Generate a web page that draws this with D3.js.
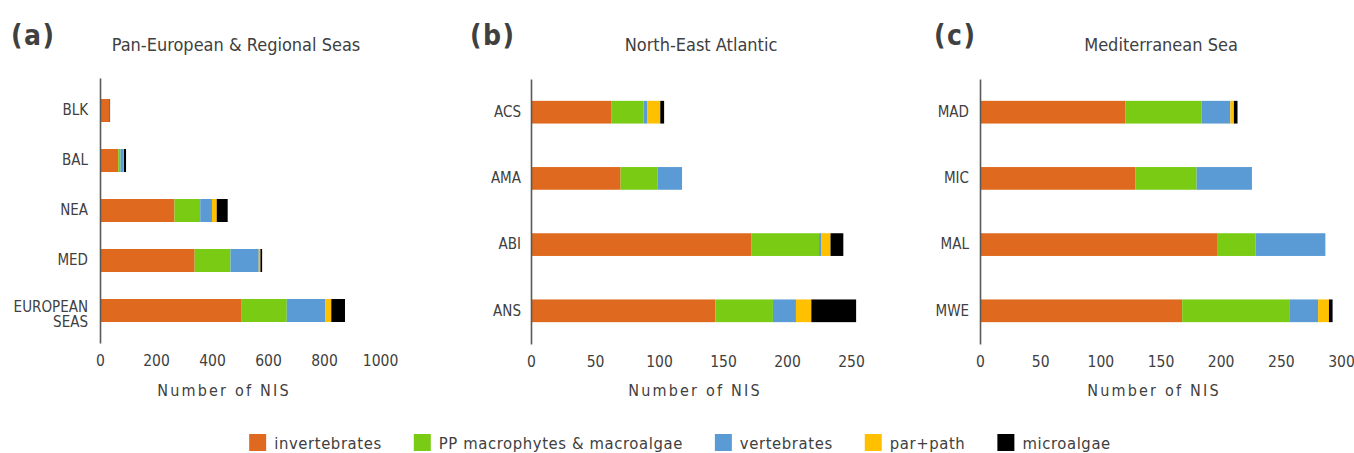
<!DOCTYPE html>
<html>
<head>
<meta charset="utf-8">
<script src="https://cdn.jsdelivr.net/npm/d3@7"></script>
<style>
  html, body { margin: 0; padding: 0; background: #fff; }
  svg { display: block; }
  text { font-family: "DejaVu Sans Condensed", "Liberation Sans Narrow", sans-serif; fill: #404040; }
</style>
</head>
<body>
<svg id="chart" width="1354" height="453"></svg>
<script>
// ---------- DATA ----------
const seriesNames = ["invertebrates", "PP macrophytes & macroalgae", "vertebrates", "par+path", "microalgae"];
const seriesColors = ["#DF6A1F", "#79CB13", "#5B9BD5", "#FFC000", "#000000"];

// (a) Pan-European & Regional Seas
const catsA = ["BLK", "BAL", "NEA", "MED", "EUROPEAN SEAS"];
const invA   = [33, 65, 266, 338, 506];
const ppA    = [0, 8, 92, 128, 161];
const vertA  = [0, 10, 42, 101, 137];
const parA   = [1, 2, 17, 6, 22];
const microA = [2, 8, 39, 6, 49];
const ticksA = [0, 200, 400, 600, 800, 1000];

// (b) North-East Atlantic
const catsB = ["ACS", "AMA", "ABI", "ANS"];
const invB   = [63, 70, 172, 144];
const ppB    = [25, 29, 53, 45];
const vertB  = [3, 19, 2, 18];
const parB   = [10, 0, 7, 12];
const microB = [3, 0, 10, 35];
const ticksB = [0, 50, 100, 150, 200, 250];

// (c) Mediterranean Sea
const catsC = ["MAD", "MIC", "MAL", "MWE"];
const invC   = [121, 129, 197, 168];
const ppC    = [63, 51, 32, 89];
const vertC  = [24, 46, 58, 24];
const parC   = [3, 0, 0, 9];
const microC = [3, 0, 0, 3];
const ticksC = [0, 50, 100, 150, 200, 250, 300];

const panelLetters = ["(a)", "(b)", "(c)"];
const panelTitles = ["Pan-European & Regional Seas", "North-East Atlantic", "Mediterranean Sea"];
const axisTitle = "Number of NIS";

// ---------- DRAW ----------
const svg = d3.select("#chart");

function buildRows(cats, arrays) {
  return cats.map((c, i) => {
    const row = { cat: c };
    seriesNames.forEach((s, j) => { row[s] = arrays[j][i]; });
    return row;
  });
}

function drawPanel(cfg) {
  const g = svg.append("g");
  const rows = buildRows(cfg.cats, cfg.arrays);
  const x = d3.scaleLinear().domain(cfg.xDomain).range(cfg.xRange);
  const y = d3.scaleBand().domain(cfg.cats).range(cfg.yRange)
    .paddingInner(cfg.padIn).paddingOuter(cfg.padOut);

  const stack = d3.stack().keys(seriesNames)(rows);
  g.selectAll("g.series").data(stack).join("g")
    .attr("class", "series")
    .attr("fill", (d, i) => seriesColors[i])
    .selectAll("rect").data(d => d).join("rect")
    .attr("x", d => x(d[0]))
    .attr("width", d => Math.max(0, x(d[1]) - x(d[0])))
    .attr("y", d => y(d.data.cat))
    .attr("height", y.bandwidth());

  // y axis (line + category labels)
  const yAxis = d3.axisLeft(y).tickSize(0).tickPadding(cfg.labelPad);
  const ya = g.append("g").attr("transform", `translate(${cfg.xRange[0]},0)`).call(yAxis);
  ya.select(".domain").attr("stroke", "#595959").attr("stroke-width", 1.6);
  ya.selectAll(".tick text")
    .attr("font-size", 15)
    .style("font-family", '"DejaVu Sans Condensed", sans-serif')
    .attr("fill", "#404040")
    .each(function(d) {
      const t = d3.select(this);
      const words = d.split(" ");
      if (words.length > 1) {
        t.text(null).attr("dy", null).attr("y", 0);
        const xx = -cfg.labelPad;
        t.append("tspan").attr("x", xx).attr("y", 1).text(words[0]);
        t.append("tspan").attr("x", xx).attr("y", 16.5).text(words[1]);
      }
    });

  // x axis (labels only)
  const xAxis = d3.axisBottom(x).tickValues(cfg.ticks).tickSize(0).tickPadding(0).tickFormat(d3.format("d"));
  const xa = g.append("g").attr("transform", `translate(0,${cfg.yRange[1] + 12})`).call(xAxis);
  xa.select(".domain").remove();
  xa.selectAll(".tick text")
    .attr("font-size", 15.5)
    .style("font-family", '"DejaVu Sans Condensed", sans-serif')
    .attr("fill", "#404040")
    .attr("dy", "0.71em");

  // axis title
  g.append("text")
    .attr("x", cfg.axisTitleX + 1).attr("y", 396)
    .attr("text-anchor", "middle")
    .attr("font-size", 16)
    .style("letter-spacing", "2.2px")
    .text(axisTitle);

  // panel title
  g.append("text")
    .attr("x", cfg.titleX).attr("y", 51)
    .attr("text-anchor", "middle")
    .attr("font-size", 18)
    .text(cfg.title);

  // panel letter
  g.append("text")
    .attr("x", cfg.letterX).attr("y", 45)
    .attr("font-size", 28)
    .attr("font-weight", "bold")
    .style("letter-spacing", "1.5px")
    .style("font-family", '"DejaVu Sans Condensed", "Liberation Sans", sans-serif')
    .attr("fill", "#000")
    .text(cfg.letter);
}

drawPanel({
  cats: catsA, arrays: [invA, ppA, vertA, parA, microA], ticks: ticksA,
  xDomain: [0, 1000], xRange: [100, 380], yRange: [78, 343], padIn: 0.54, padOut: 0.42, labelPad: 12,
  axisTitleX: 223, titleX: 236, title: panelTitles[0], letterX: 11, letter: panelLetters[0]
});
drawPanel({
  cats: catsB, arrays: [invB, ppB, vertB, parB, microB], ticks: ticksB,
  xDomain: [0, 250], xRange: [531, 851], yRange: [79, 344], padIn: 0.657, padOut: 0.33, labelPad: 10,
  axisTitleX: 694, titleX: 701, title: panelTitles[1], letterX: 470, letter: panelLetters[1]
});
drawPanel({
  cats: catsC, arrays: [invC, ppC, vertC, parC, microC], ticks: ticksC,
  xDomain: [0, 300], xRange: [980, 1341], yRange: [79, 344], padIn: 0.657, padOut: 0.33, labelPad: 11,
  axisTitleX: 1153, titleX: 1161, title: panelTitles[2], letterX: 934, letter: panelLetters[2]
});

// legend
const leg = svg.append("g");
const items = leg.selectAll("g.item").data(seriesNames).join("g").attr("class", "item");
items.append("rect").attr("width", 17).attr("height", 17).attr("y", 434)
  .attr("fill", (d, i) => seriesColors[i]);
items.append("text").attr("x", 25).attr("y", 448.5)
  .attr("font-size", 16.5)
  .style("letter-spacing", "0.6px")
  .text(d => d);
const gap = 32;
let cx = 0;
const offs = [];
items.each(function(d, i) {
  offs.push(cx);
  const w = d3.select(this).select("text").node().getComputedTextLength();
  cx += 25 + w + gap;
});
const total = cx - gap;
const start = 680 - total / 2;
items.attr("transform", (d, i) => `translate(${start + offs[i]},0)`);
</script>
</body>
</html>
